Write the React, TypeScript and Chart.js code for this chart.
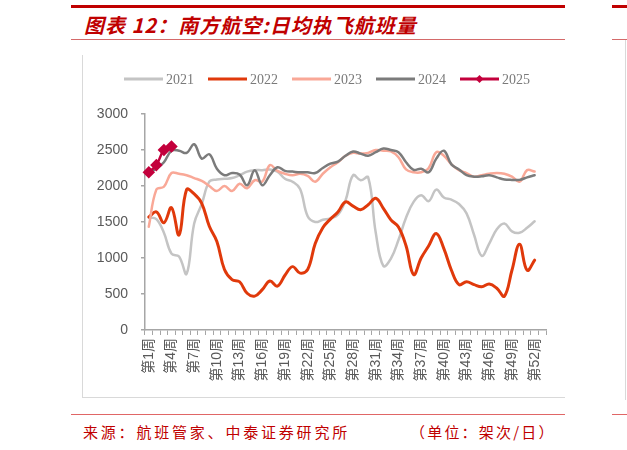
import React, { useEffect, useRef } from "react";
import { Chart, registerables } from "chart.js";

Chart.register(...registerables);

const weekLabels: string[] = Array.from({ length: 53 }, (_, i) => `第${i + 1}周`);

const seriesNames = ["2021", "2022", "2023", "2024", "2025"];

const y2021 = [1560, 1540, 1350, 1060, 1020, 780, 1480, 1750, 2060, 2090, 2100, 2110, 2150, 2200, 2220, 2220, 2230, 2200, 2100, 2060, 1960, 1580, 1500, 1530, 1550, 1600, 1800, 2150, 2080, 2120, 1350, 890, 990, 1250, 1560, 1780, 1870, 1790, 1950, 1840, 1810, 1750, 1620, 1320, 1030, 1200, 1400, 1480, 1370, 1350, 1420, 1510];
const y2022 = [1570, 1640, 1490, 1700, 1320, 1950, 1890, 1760, 1440, 1230, 840, 700, 670, 510, 470, 560, 680, 610, 760, 880, 790, 840, 1200, 1420, 1540, 1640, 1780, 1720, 1670, 1740, 1830, 1690, 1530, 1430, 1170, 770, 1000, 1170, 1340, 1130, 830, 630, 670, 630, 600, 640, 580, 470, 830, 1190, 830, 970];
const y2023 = [1435, 1950, 1990, 2180, 2170, 2150, 2110, 2070, 2000, 1930, 2000, 1930, 2030, 1970, 2080, 2060, 2290, 2210, 2170, 2150, 2170, 2140, 2060, 2170, 2260, 2330, 2420, 2460, 2450, 2460, 2500, 2490, 2480, 2400, 2230, 2190, 2190, 2250, 2470, 2420, 2300, 2220, 2180, 2130, 2150, 2170, 2180, 2170, 2130, 2060, 2220, 2200];
const y2024 = [2190, 2240, 2330, 2490, 2490, 2460, 2580, 2380, 2440, 2240, 2150, 2180, 2160, 2010, 2220, 2010, 2150, 2260, 2210, 2200, 2190, 2190, 2180, 2250, 2310, 2340, 2420, 2480, 2450, 2420, 2470, 2520, 2500, 2470, 2330, 2225, 2240, 2190, 2380, 2490, 2300, 2230, 2150, 2130, 2135, 2150, 2120, 2090, 2085, 2085, 2120, 2150];
const y2025 = [2190, 2290, 2500, 2550];

const yTicks = [0, 500, 1000, 1500, 2000, 2500, 3000];

const AXIS = "#a6a6a6";
const TICK_TXT = "#595959";
const SANS = '"Liberation Sans", "Noto Sans CJK SC", Arial, sans-serif';

const legendPlugin = {
  id: "customLegend",
  afterDraw(chart: any) {
    const ctx = chart.ctx as CanvasRenderingContext2D;
    const ds = chart.data.datasets;
    ctx.save();
    ctx.font = '14px "Liberation Serif", "Times New Roman", serif';
    const sw = 39;
    const gapText = 3;
    const gapItem = 14;
    const widths = ds.map((d: any) => sw + gapText + ctx.measureText(d.label).width);
    const total = widths.reduce((a: number, b: number) => a + b, 0) + gapItem * (ds.length - 1);
    const cx = 245;
    const cy = 22;
    let x = cx - total / 2;
    ds.forEach((d: any, i: number) => {
      ctx.strokeStyle = d.borderColor;
      ctx.lineWidth = 3;
      ctx.lineCap = "butt";
      ctx.beginPath();
      ctx.moveTo(x, cy);
      ctx.lineTo(x + sw, cy);
      ctx.stroke();
      if (d.pointStyle === "rectRot") {
        ctx.fillStyle = d.borderColor;
        ctx.beginPath();
        const r = 4;
        const mx = x + sw / 2;
        ctx.moveTo(mx, cy - r);
        ctx.lineTo(mx + r, cy);
        ctx.lineTo(mx, cy + r);
        ctx.lineTo(mx - r, cy);
        ctx.closePath();
        ctx.fill();
      }
      ctx.fillStyle = "#7a7a7a";
      ctx.textBaseline = "middle";
      ctx.textAlign = "left";
      ctx.fillText(d.label, x + sw + gapText, cy + 1);
      x += widths[i] + gapItem;
    });
    ctx.restore();
  },
};

function ChartBox() {
  const ref = useRef<HTMLCanvasElement | null>(null);
  useEffect(() => {
    if (!ref.current) return;
    const chart = new Chart(ref.current, {
      type: "line",
      data: {
        labels: weekLabels,
        datasets: [
          { label: seriesNames[0], data: y2021, borderColor: "#c4c4c4", backgroundColor: "#c4c4c4", borderWidth: 2.5, pointRadius: 0, order: 4 },
          { label: seriesNames[1], data: y2022, borderColor: "#e0390b", backgroundColor: "#e0390b", borderWidth: 3, pointRadius: 0, order: 3 },
          { label: seriesNames[2], data: y2023, borderColor: "#f9a897", backgroundColor: "#f9a897", borderWidth: 2.5, pointRadius: 0, order: 2 },
          { label: seriesNames[3], data: y2024, borderColor: "#7b7b7b", backgroundColor: "#7b7b7b", borderWidth: 2.5, pointRadius: 0, order: 1 },
          { label: seriesNames[4], data: y2025, borderColor: "#c3003c", backgroundColor: "#c3003c", borderWidth: 2.5, pointStyle: "rectRot", pointRadius: 4.5, pointBackgroundColor: "#c3003c", pointBorderColor: "#c3003c", order: 0 } as any,
        ],
      },
      options: {
        animation: false,
        responsive: false,
        maintainAspectRatio: false,
        layout: { padding: { top: 57, left: 0, right: 26, bottom: 0 } },
        elements: { line: { tension: 0.4, borderCapStyle: "round", borderJoinStyle: "round" } },
        plugins: { legend: { display: false }, tooltip: { enabled: false }, title: { display: false } },
        scales: {
          x: {
            type: "category",
            offset: true,
            grid: { display: true, offset: true, drawOnChartArea: false, drawTicks: true, tickLength: 5, color: AXIS, lineWidth: 1 },
            border: { display: true, color: AXIS, width: 1.5 },
            ticks: {
              autoSkip: false,
              minRotation: 90,
              maxRotation: 90,
              padding: 3,
              color: TICK_TXT,
              font: { size: 14, family: SANS },
              callback: (_v: any, i: number) => (i % 3 === 0 ? weekLabels[i] : ""),
            },
            afterFit: (s: any) => { s.height = 67; },
          },
          y: {
            min: 0,
            max: 3000,
            afterBuildTicks: (s: any) => { s.ticks = yTicks.map((v) => ({ value: v })); },
            grid: { display: true, drawOnChartArea: false, drawTicks: true, tickLength: 4, color: AXIS, lineWidth: 1.5 },
            border: { display: true, color: AXIS, width: 1.5 },
            ticks: { padding: 13, color: TICK_TXT, font: { size: 14, family: SANS }, callback: (v: any) => String(v) },
            afterFit: (s: any) => { s.width = 63; },
          },
        },
      } as any,
      plugins: [legendPlugin],
    });
    return () => chart.destroy();
  }, []);
  return <canvas ref={ref} width={490} height={340} style={{ position: "absolute", left: 82, top: 57, width: 490, height: 340 }} />;
}

export default function App() {
  const red = "#c00000";
  const cjk = '"Noto Sans CJK SC", "Liberation Sans", sans-serif';
  return (
    <div style={{ position: "absolute", left: 0, top: 0, width: 627, height: 450, background: "#fff", overflow: "hidden" }}>
      <div style={{ position: "absolute", left: 71, top: 5, width: 494, height: 3, background: red }} />
      <div style={{ position: "absolute", left: 612, top: 5, width: 15, height: 3, background: red }} />
      <div style={{ position: "absolute", left: 84, top: 10, fontFamily: cjk, fontSize: 20, fontWeight: 700, fontStyle: "italic", color: red, whiteSpace: "nowrap", letterSpacing: 1, lineHeight: "30px" }}>
        图表 12：南方航空:日均执飞航班量
      </div>
      <div style={{ position: "absolute", left: 71, top: 39, width: 494, height: 1, background: "#d46a6a" }} />
      <div style={{ position: "absolute", left: 612, top: 39, width: 15, height: 1, background: "#d46a6a" }} />
      <div style={{ position: "absolute", left: 82, top: 55, width: 1, height: 342, background: "#d9d9d9" }} />
      <div style={{ position: "absolute", left: 82, top: 397, width: 483, height: 1, background: "#d9d9d9" }} />
      <div style={{ position: "absolute", left: 625, top: 40, width: 1, height: 360, background: "#d9d9d9" }} />
      <ChartBox />
      <div style={{ position: "absolute", left: 71, top: 414, width: 494, height: 1, background: "#e06666" }} />
      <div style={{ position: "absolute", left: 612, top: 414, width: 15, height: 1, background: "#e06666" }} />
      <div style={{ position: "absolute", left: 83, top: 422, fontFamily: cjk, fontSize: 15, color: red, whiteSpace: "nowrap", letterSpacing: 2.8, lineHeight: "20px" }}>
        来源：航班管家、中泰证券研究所
      </div>
      <div style={{ position: "absolute", left: 410, top: 422, fontFamily: cjk, fontSize: 15, color: red, whiteSpace: "nowrap", letterSpacing: 2.2, lineHeight: "20px" }}>
        （单位：架次/日）
      </div>
    </div>
  );
}
